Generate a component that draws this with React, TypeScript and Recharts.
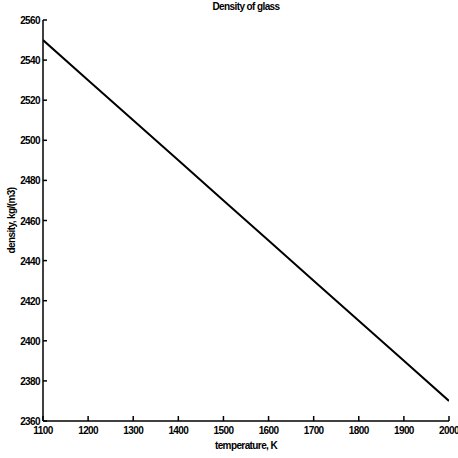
import React from "react";
import { LineChart, Line, XAxis, YAxis, Label } from "recharts";

// temperature (K) and density of glass (kg/m3)
const temperatures = [1100, 1200, 1300, 1400, 1500, 1600, 1700, 1800, 1900, 2000];
const densities = [2550, 2530, 2510, 2490, 2470, 2450, 2430, 2410, 2390, 2370];

const xTicks = [1100, 1200, 1300, 1400, 1500, 1600, 1700, 1800, 1900, 2000];
const yTicks = [2360, 2380, 2400, 2420, 2440, 2460, 2480, 2500, 2520, 2540, 2560];

const chartData = temperatures.map((t, i) => ({ temperature: t, density: densities[i] }));

const FONT = "'Liberation Sans Narrow', 'Liberation Sans', Arial, sans-serif";
const SPACING = -0.6; // the original uses a condensed face

const YTick = (props: any) => {
    const { x, y, payload } = props;
    return (
        <g>
            <line x1={x + 3} y1={y} x2={x + 7} y2={y} stroke="#000" strokeWidth={1.5} />
            <text x={x} y={y} dy={4} textAnchor="end" fontSize={10} fontWeight="bold" fontFamily={FONT} letterSpacing={SPACING} fill="#000">
                {payload.value}
            </text>
        </g>
    );
};

const XTick = (props: any) => {
    const { x, y, payload } = props;
    return (
        <g>
            <line x1={x} y1={y - 3} x2={x} y2={y - 8} stroke="#000" strokeWidth={1.5} />
            <text x={x} y={y} dy={10} textAnchor="middle" fontSize={10} fontWeight="bold" fontFamily={FONT} letterSpacing={SPACING} fill="#000">
                {payload.value}
            </text>
        </g>
    );
};

export default function App() {
    return (
        <div style={{ position: "fixed", left: 0, top: 0, width: 458, height: 458, background: "#fff" }}>
            <svg width={458} height={20} style={{ position: "absolute", left: 0, top: 0 }}>
                <text x={246} y={10} textAnchor="middle" fontSize={10} fontWeight="bold" fontFamily={FONT} letterSpacing={SPACING}>
                    Density of glass
                </text>
            </svg>
            <LineChart
                width={458}
                height={458}
                data={chartData}
                margin={{ top: 20, right: 9, left: 0, bottom: 0 }}
            >
                <XAxis
                    dataKey="temperature"
                    type="number"
                    domain={[1100, 2000]}
                    ticks={xTicks}
                    height={37}
                    tickSize={0}
                    tickMargin={3}
                    tickLine={false}
                    tick={<XTick />}
                    axisLine={{ stroke: "#000", strokeWidth: 1.5 }}
                    interval={0}
                    allowDataOverflow
                >
                    <Label
                        value="temperature, K"
                        position="insideBottom"
                        offset={9}
                        style={{ fontSize: 10, fontWeight: "bold", fontFamily: FONT, fill: "#000", letterSpacing: SPACING }}
                    />
                </XAxis>
                <YAxis
                    type="number"
                    domain={[2360, 2560]}
                    ticks={yTicks}
                    width={43}
                    tickSize={0}
                    tickMargin={3}
                    tickLine={false}
                    tick={<YTick />}
                    axisLine={{ stroke: "#000", strokeWidth: 1.5 }}
                    interval={0}
                    allowDataOverflow
                >
                    <Label
                        value="density, kg/(m3)"
                        angle={-90}
                        position="insideLeft"
                        offset={11}
                        style={{ fontSize: 10, fontWeight: "bold", fontFamily: FONT, fill: "#000", textAnchor: "middle", letterSpacing: SPACING }}
                    />
                </YAxis>
                <Line
                    dataKey="density"
                    stroke="#000"
                    strokeWidth={2}
                    dot={false}
                    isAnimationActive={false}
                />
            </LineChart>
        </div>
    );
}
